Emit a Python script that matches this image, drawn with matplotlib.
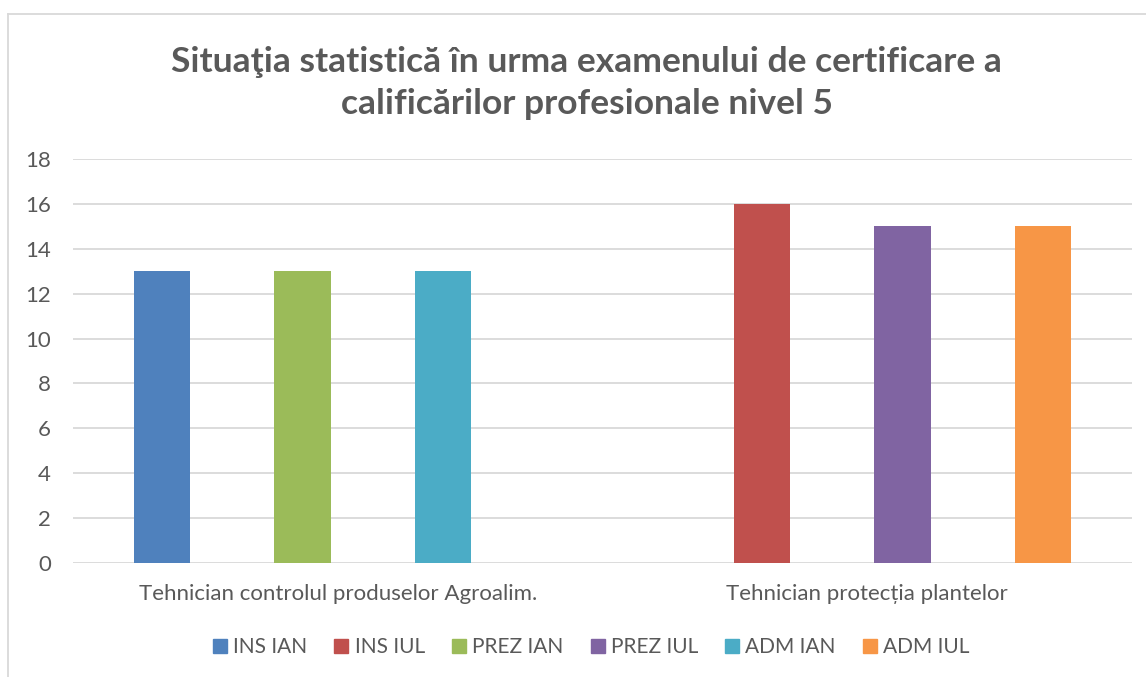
import matplotlib
matplotlib.use("Agg")
import matplotlib.pyplot as plt
from matplotlib.lines import Line2D
import numpy as np

plt.rcParams["font.family"] = ["Lato", "DejaVu Sans"]

TEXT = "#595959"
GRID = "#D9D9D9"

categories = ["Tehnician controlul produselor Agroalim.", "Tehnician protecția plantelor"]
series = ["INS IAN", "INS IUL", "PREZ IAN", "PREZ IUL", "ADM IAN", "ADM IUL"]
ins_ian = [13, 0]
ins_iul = [0, 16]
prez_ian = [13, 0]
prez_iul = [0, 15]
adm_ian = [13, 0]
adm_iul = [0, 15]
values = [ins_ian, ins_iul, prez_ian, prez_iul, adm_ian, adm_iul]
colors = ["#4F81BD", "#C0504D", "#9BBB59", "#8064A2", "#4BACC6", "#F79646"]

fig = plt.figure(figsize=(11.46, 6.77), dpi=100)
ax = fig.add_axes([73 / 1146, 1 - 563 / 677, (1132 - 73) / 1146, (563 - 159) / 677])

x = np.arange(len(categories))
step = 0.133
width = 0.106
for i, (name, vals, col) in enumerate(zip(series, values, colors)):
    ax.bar(x + (i - 2.5) * step, vals, width, color=col, label=name, zorder=3, linewidth=0)

ax.set_xlim(-0.5, 1.5)
ax.set_ylim(0, 18)
ax.set_yticks(range(0, 19, 2))
ax.set_xticks(x)
ax.set_xticklabels(categories)
ax.tick_params(axis="y", length=0, pad=16, labelsize=16, labelcolor=TEXT)
ax.tick_params(axis="x", length=0, pad=15, labelsize=16, labelcolor=TEXT)
ax.grid(axis="y", color=GRID, linewidth=1.3, zorder=0)
for s in ax.spines.values():
    s.set_visible(False)

fig.text(0.512, 1 - 83 / 677, "Situaţia statistică în urma examenului de certificare a\ncalificărilor profesionale nivel 5",
         ha="center", va="center", fontsize=25.5, fontweight="bold", color=TEXT, linespacing=1.38)

handles = [plt.Rectangle((0, 0), 1, 1, color=c) for c in colors]
fig.legend(handles, series, loc="center", bbox_to_anchor=(0.516, 1 - 647 / 677), ncol=6, frameon=False,
           fontsize=15, labelcolor=TEXT, handlelength=0.67, handleheight=0.67, handletextpad=0.3,
           columnspacing=1.3)

# chart border (left and top edges visible)
fig.add_artist(Line2D([8 / 1146, 8 / 1146], [0, 1 - 14 / 677], color="#D9D9D9", linewidth=1.3))
fig.add_artist(Line2D([8 / 1146, 1], [1 - 14 / 677, 1 - 14 / 677], color="#D9D9D9", linewidth=1.3))

fig.savefig("out.png", dpi=100, facecolor="white")
